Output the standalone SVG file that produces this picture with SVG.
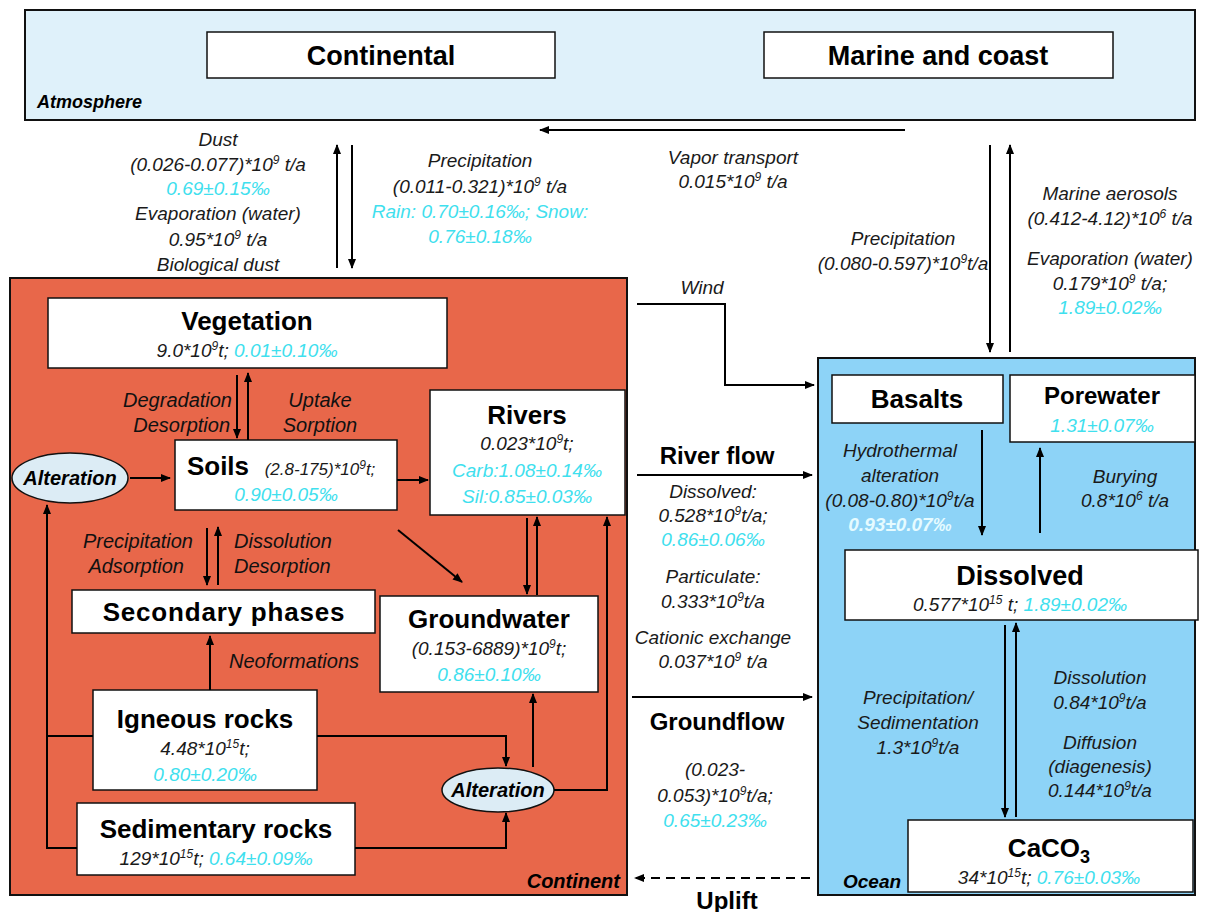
<svg xmlns="http://www.w3.org/2000/svg" width="1205" height="912" viewBox="0 0 1205 912">
<style>
text{font-family:"Liberation Sans",Arial,sans-serif;fill:#1a1a1a;text-anchor:middle}
.it{font-style:italic;font-size:19px}
.oi{font-style:italic;font-size:20px;fill:#111}
.cy{fill:#3fe0ee}
.wc{fill:#e6fbff;font-weight:bold}
.t{font-weight:bold;font-size:26px;fill:#000}
.tl{font-weight:bold;font-size:27px;fill:#000}
.fl{font-weight:bold;font-size:24px;fill:#000}
.lab{font-weight:bold;font-style:italic;font-size:19px;fill:#000}
.sup{font-size:12px}
.box{fill:#fff;stroke:#111;stroke-width:1.5}
.ln{stroke:#000;stroke-width:2;fill:none}
.arr{stroke:#000;stroke-width:2;fill:none;marker-end:url(#ah)}
.ell{fill:#dcecf5;stroke:#111;stroke-width:1.5}
</style>
<defs>
<marker id="ah" markerWidth="10" markerHeight="10" refX="9" refY="5" orient="auto" markerUnits="userSpaceOnUse">
<path d="M0,1 L10,5 L0,9 Z" fill="#000"/>
</marker>
</defs>
<rect width="1205" height="912" fill="#fff"/>

<g id="atmosphere">
<rect x="25" y="10" width="1170" height="110" fill="#dff1fa" stroke="#111" stroke-width="2"/>
<text x="37" y="108" class="lab" style="text-anchor:start;font-size:18px">Atmosphere</text>
</g>
<g id="continental">
<rect x="207" y="32" width="348" height="46" class="box"/>
<text x="381" y="65" class="tl">Continental</text>
</g>
<g id="marine">
<rect x="764" y="32" width="349" height="46" class="box"/>
<text x="938" y="65" class="tl">Marine and coast</text>
</g>

<g id="continent">
<rect x="10" y="278" width="617" height="617" fill="#e8674a" stroke="#111" stroke-width="2"/>
<text x="620" y="888" class="lab" style="text-anchor:end;font-size:20px">Continent</text>
</g>
<g id="ocean">
<rect x="818" y="358" width="377" height="537" fill="#8dd3f7" stroke="#111" stroke-width="2"/>
<text x="843" y="888" class="lab" style="text-anchor:start;font-size:19px">Ocean</text>
</g>

<g id="vegetation">
<rect x="48" y="298" width="399" height="70" class="box"/>
<text x="247" y="330" class="t">Vegetation</text>
<text x="247" y="357" class="it">9.0*10<tspan class="sup" dy="-7">9</tspan><tspan dy="7">t; </tspan><tspan class="cy">0.01±0.10‰</tspan></text>
</g>
<g id="soils">
<rect x="175" y="440" width="222" height="70" class="box"/>
<text x="218" y="475" class="t">Soils</text>
<text x="320" y="475" class="it" style="font-size:17px">(2.8-175)*10<tspan class="sup" dy="-6">9</tspan><tspan dy="6">t;</tspan></text>
<text x="286" y="501" class="it cy">0.90±0.05‰</text>
</g>
<g id="rivers">
<rect x="430" y="390" width="195" height="125" class="box"/>
<text x="527" y="424" class="t">Rivers</text>
<text x="527" y="450" class="it">0.023*10<tspan class="sup" dy="-7">9</tspan><tspan dy="7">t;</tspan></text>
<text x="527" y="477" class="it cy">Carb:1.08±0.14‰</text>
<text x="527" y="503" class="it cy">Sil:0.85±0.03‰</text>
</g>
<g id="alteration1">
<ellipse cx="70" cy="478" rx="58" ry="25" class="ell"/>
<text x="70" y="485" class="lab" style="font-size:20px">Alteration</text>
</g>
<g id="secondary">
<rect x="72" y="590" width="303" height="43" class="box"/>
<text x="224" y="621" class="t" style="letter-spacing:0.8px">Secondary phases</text>
</g>
<g id="groundwater">
<rect x="380" y="596" width="218" height="96" class="box"/>
<text x="489" y="628" class="t">Groundwater</text>
<text x="489" y="655" class="it">(0.153-6889)*10<tspan class="sup" dy="-7">9</tspan><tspan dy="7">t;</tspan></text>
<text x="489" y="681" class="it cy">0.86±0.10‰</text>
</g>
<g id="igneous">
<rect x="93" y="690" width="224" height="100" class="box"/>
<text x="205" y="728" class="t">Igneous rocks</text>
<text x="205" y="755" class="it">4.48*10<tspan class="sup" dy="-7">15</tspan><tspan dy="7">t;</tspan></text>
<text x="205" y="781" class="it cy">0.80±0.20‰</text>
</g>
<g id="sedimentary">
<rect x="77" y="803" width="278" height="72" class="box"/>
<text x="216" y="838" class="t">Sedimentary rocks</text>
<text x="216" y="865" class="it">129*10<tspan class="sup" dy="-7">15</tspan><tspan dy="7">t; </tspan><tspan class="cy">0.64±0.09‰</tspan></text>
</g>
<g id="alteration2">
<ellipse cx="498" cy="790" rx="56" ry="22" class="ell"/>
<text x="498" y="797" class="lab" style="font-size:20px">Alteration</text>
</g>

<g id="basalts">
<rect x="832" y="375" width="171" height="48" class="box"/>
<text x="917" y="408" class="t">Basalts</text>
</g>
<g id="porewater">
<rect x="1010" y="375" width="185" height="67" class="box"/>
<text x="1102" y="404" class="t" style="font-size:24px">Porewater</text>
<text x="1102" y="432" class="it cy">1.31±0.07‰</text>
</g>
<g id="dissolved">
<rect x="845" y="550" width="353" height="70" class="box"/>
<text x="1020" y="585" class="t" style="font-size:27px">Dissolved</text>
<text x="1020" y="611" class="it">0.577*10<tspan class="sup" dy="-7">15</tspan><tspan dy="7"> t; </tspan><tspan class="cy">1.89±0.02‰</tspan></text>
</g>
<g id="caco3">
<rect x="908" y="820" width="285" height="72" class="box"/>
<text x="1049" y="857" class="t">CaCO<tspan dy="6" style="font-size:18px">3</tspan></text>
<text x="1049" y="884" class="it">34*10<tspan class="sup" dy="-7">15</tspan><tspan dy="7">t; </tspan><tspan class="cy">0.76±0.03‰</tspan></text>
</g>

<g id="connectors">
<line x1="905" y1="130" x2="540" y2="130" class="arr"/>
<line x1="337" y1="268" x2="337" y2="145" class="arr"/>
<line x1="352" y1="145" x2="352" y2="268" class="arr"/>
<line x1="990" y1="145" x2="990" y2="352" class="arr"/>
<line x1="1010" y1="352" x2="1010" y2="145" class="arr"/>
<polyline points="637,304 725,304 725,385 814,385" class="arr"/>
<line x1="237" y1="375" x2="237" y2="438" class="arr"/>
<line x1="248" y1="440" x2="248" y2="373" class="arr"/>
<line x1="130" y1="478" x2="170" y2="478" class="arr"/>
<line x1="397" y1="480" x2="428" y2="480" class="arr"/>
<line x1="207" y1="528" x2="207" y2="585" class="arr"/>
<line x1="218" y1="585" x2="218" y2="527" class="arr"/>
<line x1="398" y1="530" x2="462" y2="582" class="arr"/>
<line x1="527" y1="518" x2="527" y2="594" class="arr"/>
<line x1="537" y1="595" x2="537" y2="517" class="arr"/>
<line x1="210" y1="690" x2="210" y2="636" class="arr"/>
<polyline points="317,736 506,736 506,766" class="arr"/>
<polyline points="355,848 506,848 506,813" class="arr"/>
<line x1="533" y1="767" x2="533" y2="694" class="arr"/>
<polyline points="554,790 607,790 607,517" class="arr"/>
<polyline points="93,736 47,736" class="ln"/>
<polyline points="77,848 47,848 47,505" class="arr"/>
<line x1="637" y1="475" x2="812" y2="475" class="arr"/>
<line x1="632" y1="697" x2="812" y2="697" class="arr"/>
<line x1="810" y1="878" x2="635" y2="878" class="arr" stroke-dasharray="9,6"/>
<line x1="982" y1="430" x2="982" y2="535" class="arr"/>
<line x1="1040" y1="533" x2="1040" y2="448" class="arr"/>
<line x1="1005" y1="625" x2="1005" y2="817" class="arr"/>
<line x1="1016" y1="817" x2="1016" y2="623" class="arr"/>
</g>

<g id="labels">
<text x="218" y="146" class="it">Dust</text>
<text x="218" y="171" class="it">(0.026-0.077)*10<tspan class="sup" dy="-7">9</tspan><tspan dy="7"> t/a</tspan></text>
<text x="218" y="195" class="it cy">0.69±0.15‰</text>
<text x="218" y="220" class="it">Evaporation (water)</text>
<text x="218" y="246" class="it">0.95*10<tspan class="sup" dy="-7">9</tspan><tspan dy="7"> t/a</tspan></text>
<text x="218" y="271" class="it">Biological dust</text>

<text x="480" y="167" class="it">Precipitation</text>
<text x="480" y="193" class="it">(0.011-0.321)*10<tspan class="sup" dy="-7">9</tspan><tspan dy="7"> t/a</tspan></text>
<text x="480" y="218" class="it cy">Rain: 0.70±0.16‰; Snow:</text>
<text x="480" y="243" class="it cy">0.76±0.18‰</text>

<text x="733" y="164" class="it">Vapor transport</text>
<text x="733" y="188" class="it">0.015*10<tspan class="sup" dy="-7">9</tspan><tspan dy="7"> t/a</tspan></text>

<text x="903" y="245" class="it">Precipitation</text>
<text x="903" y="270" class="it">(0.080-0.597)*10<tspan class="sup" dy="-7">9</tspan><tspan dy="7">t/a</tspan></text>

<text x="1110" y="200" class="it">Marine aerosols</text>
<text x="1110" y="225" class="it">(0.412-4.12)*10<tspan class="sup" dy="-7">6</tspan><tspan dy="7"> t/a</tspan></text>
<text x="1110" y="265" class="it">Evaporation (water)</text>
<text x="1110" y="290" class="it">0.179*10<tspan class="sup" dy="-7">9</tspan><tspan dy="7"> t/a;</tspan></text>
<text x="1110" y="314" class="it cy">1.89±0.02‰</text>

<text x="702" y="294" class="it">Wind</text>

<text x="232" y="407" class="oi" style="text-anchor:end">Degradation</text>
<text x="230" y="432" class="oi" style="text-anchor:end">Desorption</text>
<text x="320" y="407" class="oi">Uptake</text>
<text x="320" y="432" class="oi">Sorption</text>

<text x="193" y="548" class="oi" style="text-anchor:end">Precipitation</text>
<text x="184" y="573" class="oi" style="text-anchor:end">Adsorption</text>
<text x="234" y="548" class="oi" style="text-anchor:start">Dissolution</text>
<text x="234" y="573" class="oi" style="text-anchor:start">Desorption</text>
<text x="229" y="668" class="oi" style="text-anchor:start">Neoformations</text>

<text x="717" y="464" class="fl">River flow</text>
<text x="713" y="498" class="it">Dissolved:</text>
<text x="713" y="522" class="it">0.528*10<tspan class="sup" dy="-7">9</tspan><tspan dy="7">t/a;</tspan></text>
<text x="713" y="546" class="it cy">0.86±0.06‰</text>
<text x="713" y="583" class="it">Particulate:</text>
<text x="713" y="608" class="it">0.333*10<tspan class="sup" dy="-7">9</tspan><tspan dy="7">t/a</tspan></text>
<text x="713" y="644" class="it">Cationic exchange</text>
<text x="713" y="668" class="it">0.037*10<tspan class="sup" dy="-7">9</tspan><tspan dy="7"> t/a</tspan></text>

<text x="717" y="730" class="fl">Groundflow</text>
<text x="715" y="776" class="it">(0.023-</text>
<text x="715" y="802" class="it">0.053)*10<tspan class="sup" dy="-7">9</tspan><tspan dy="7">t/a;</tspan></text>
<text x="715" y="827" class="it cy">0.65±0.23‰</text>
<text x="727" y="909" class="fl">Uplift</text>

<text x="900" y="457" class="it">Hydrothermal</text>
<text x="900" y="482" class="it">alteration</text>
<text x="900" y="507" class="it">(0.08-0.80)*10<tspan class="sup" dy="-7">9</tspan><tspan dy="7">t/a</tspan></text>
<text x="900" y="531" class="it wc">0.93±0.07‰</text>
<text x="1125" y="483" class="it">Burying</text>
<text x="1125" y="507" class="it">0.8*10<tspan class="sup" dy="-7">6</tspan><tspan dy="7"> t/a</tspan></text>

<text x="918" y="704" class="it">Precipitation/</text>
<text x="918" y="729" class="it">Sedimentation</text>
<text x="918" y="754" class="it">1.3*10<tspan class="sup" dy="-7">9</tspan><tspan dy="7">t/a</tspan></text>
<text x="1100" y="684" class="it">Dissolution</text>
<text x="1100" y="709" class="it">0.84*10<tspan class="sup" dy="-7">9</tspan><tspan dy="7">t/a</tspan></text>
<text x="1100" y="749" class="it">Diffusion</text>
<text x="1100" y="773" class="it">(diagenesis)</text>
<text x="1100" y="797" class="it">0.144*10<tspan class="sup" dy="-7">9</tspan><tspan dy="7">t/a</tspan></text>
</g>
</svg>
